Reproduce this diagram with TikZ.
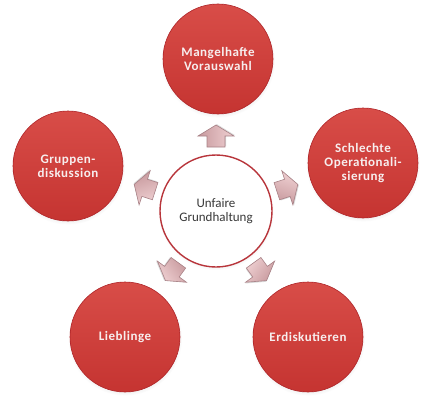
\documentclass[tikz,border=0pt]{standalone}
\usepackage{fontspec}
\setmainfont{Carlito}
\newfontfamily\ballfont[LetterSpace=4]{Carlito}
\usetikzlibrary{shadows,calc}
\definecolor{balltop}{HTML}{D84D48}
\definecolor{ballbot}{HTML}{C53431}
\definecolor{balledge}{HTML}{AE2428}
\definecolor{ringred}{HTML}{B8353B}
\definecolor{arrowtop}{HTML}{EFD0D2}
\definecolor{arrowbot}{HTML}{C89A9E}
\definecolor{arrowedge}{HTML}{A88186}
\definecolor{centertext}{HTML}{383838}
\definecolor{balltext}{HTML}{F7EEEE}
\tikzset{
  ball/.style={circle, minimum size=110pt, inner sep=0pt,
    top color=balltop, bottom color=ballbot, draw=balledge, line width=0.6pt,
    text=balltext, font=\ballfont\fontsize{13}{14}\selectfont\bfseries, align=center,
    circular drop shadow={shadow xshift=0pt, shadow yshift=-1.5pt, shadow scale=1.04, opacity=0.2}},
  hub/.style={circle, minimum size=112pt, inner sep=0pt, fill=white,
    draw=ringred, line width=1.4pt,
    text=centertext, font=\fontsize{13}{14}\selectfont, align=center,
    circular drop shadow={shadow xshift=0pt, shadow yshift=-1.5pt, shadow scale=1.03, opacity=0.2}},
  pics/blockarrow/.style={code={
    \begin{scope}[rotate=#1]
    \fill[black, opacity=0.15, shift={(0.8,-1)}] (-11,-9) -- (0,-9) -- (0,-18) -- (11,0) -- (0,18) -- (0,9) -- (-11,9) -- cycle;
    \draw[arrowedge, line width=0.6pt, top color=arrowtop, bottom color=arrowbot, shading angle=-#1]
      (-11,-9) -- (0,-9) -- (0,-18) -- (11,0) -- (0,18) -- (0,9) -- (-11,9) -- cycle;
    \end{scope}
  }}
}
\begin{document}
\begin{tikzpicture}[x=1pt,y=1pt]
\useasboundingbox (0,0) rectangle (442,400);
\node[hub] (c) at (216,189) {Unfaire\\Grundhaltung};
\node[ball] (a) at (218,341) {Mangelhafte\\Vorauswahl};
\node[ball] (b) at (363,237) {Schlechte\\Operationali-\\sierung};
\node[ball] (e) at (68,234) {Gruppen-\\diskussion};
\node[ball] (d) at (125,63) {Lieblinge};
\node[ball] (f) at (308,63) {Erdiskutieren};
\foreach \ang in {90,18,162,234,306}
  \pic at ($(c)+(\ang:75)$) {blockarrow=\ang};
\end{tikzpicture}
\end{document}
